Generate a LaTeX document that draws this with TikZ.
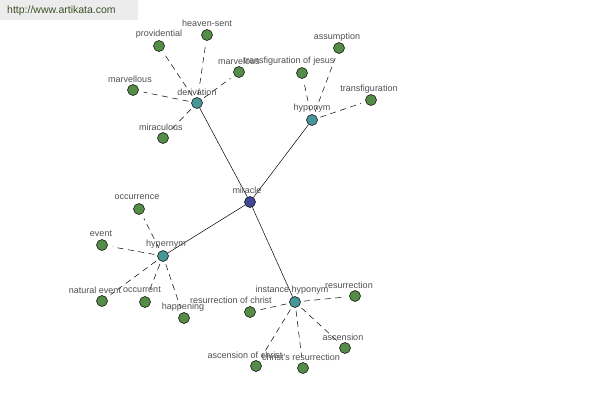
\documentclass[tikz,border=0pt]{standalone}
\usepackage{fontspec}
\setmainfont{Liberation Sans}
\definecolor{leafc}{RGB}{84,140,72}
\definecolor{hubc}{RGB}{72,150,152}
\definecolor{rootc}{RGB}{62,72,150}
\definecolor{labc}{RGB}{80,80,80}
\definecolor{wmbg}{RGB}{236,236,236}
\definecolor{wmtx}{RGB}{62,82,40}
\begin{document}
\begin{tikzpicture}[x=1pt,y=-1pt,
  dot/.style={circle,draw=black,line width=0.5pt,minimum size=11pt,inner sep=0pt},
  leaf/.style={dot,fill=leafc},
  hub/.style={dot,fill=hubc},
  root/.style={dot,fill=rootc},
  lab/.style={text=labc,font=\fontsize{9}{10}\selectfont,inner sep=0pt},
  link/.style={line width=0.5pt},
  dlink/.style={line width=0.5pt,dash pattern=on 6pt off 4.5pt,shorten <=3pt,shorten >=5pt}]
\useasboundingbox (0,0) rectangle (600,400);
\fill[white] (0,0) rectangle (600,400);
\fill[wmbg] (0,0) rectangle (138,20);
\node[text=wmtx,font=\fontsize{10.5}{12}\selectfont,anchor=west,inner sep=0pt] (wm) at (7,11) {http://www.artikata.com};

% hubs
\node[root] (mir) at (250,202) {};
\node[hub] (der) at (197,103) {};
\node[hub] (hyu) at (312,120) {};
\node[hub] (hyl) at (163,256) {};
\node[hub] (ih) at (295,302) {};

\draw[link] (mir) -- (der);
\draw[link] (mir) -- (hyu);
\draw[link] (mir) -- (hyl);
\draw[link] (mir) -- (ih);

% leaves
\foreach \n/\x/\y/\h in {hs/207/35/der, pr/159/46/der, mv/239/72/der, ml/133/90/der, mc/163/138/der,
  as/339/48/hyu, tj/302/73/hyu, tf/371/100/hyu,
  oc/139/209/hyl, ev/102/245/hyl, ne/102/301/hyl, ot/145/302/hyl, hp/184/318/hyl,
  rs/355/296/ih, rc/250/312/ih, an/345/348/ih, ac/256/366/ih, cr/303/368/ih}{
  \node[leaf] (\n) at (\x,\y) {};
  \draw[dlink] (\h) -- (\n);
}

% labels
\node[lab] (l-mir) at (247,190) {miracle};
\node[lab] (l-der) at (197,92) {derivation};
\node[lab] (l-hyu) at (312,108) {hyponym};
\node[lab] (l-hyl) at (166,244) {hypernym};
\node[lab] (l-ih) at (292,290) {instance hyponym};
\node[lab] (l-hs) at (207,23) {heaven-sent};
\node[lab] (l-pr) at (159,34) {providential};
\node[lab] (l-mv) at (239,61) {marvelous};
\node[lab] (l-ml) at (130,79) {marvellous};
\node[lab] (l-mc) at (161,127) {miraculous};
\node[lab] (l-as) at (337,37) {assumption};
\node[lab] (l-tj) at (289,61) {transfiguration of jesus};
\node[lab] (l-tf) at (369,89) {transfiguration};
\node[lab] (l-oc) at (137,197) {occurrence};
\node[lab] (l-ev) at (101,234) {event};
\node[lab] (l-ne) at (95,290) {natural event};
\node[lab] (l-ot) at (142,290) {occurrent};
\node[lab] (l-hp) at (183,307) {happening};
\node[lab] (l-rs) at (349,285) {resurrection};
\node[lab] (l-rc) at (231,300) {resurrection of christ};
\node[lab] (l-an) at (343,337) {ascension};
\node[lab] (l-ac) at (245,355) {ascension of christ};
\node[lab] (l-cr) at (301,357) {christ's resurrection};
\end{tikzpicture}
\end{document}
